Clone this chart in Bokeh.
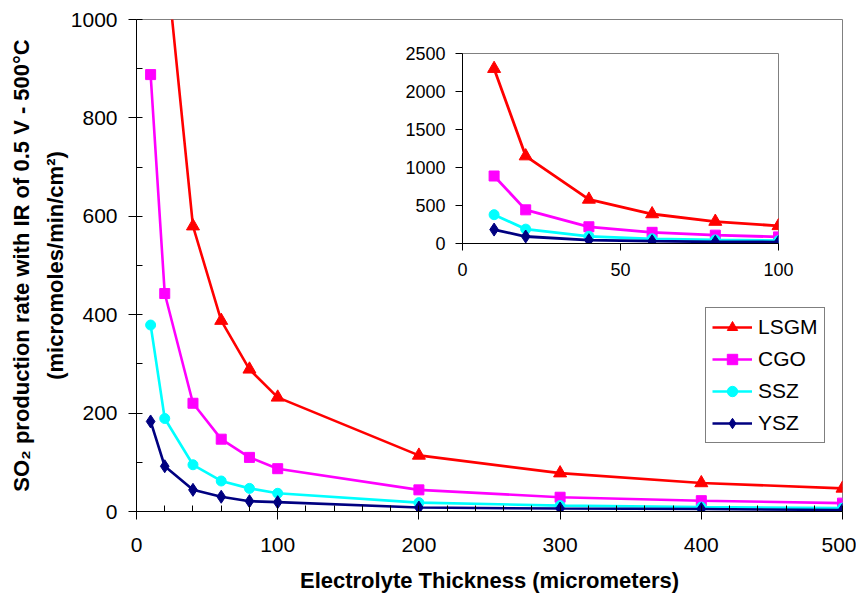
from bokeh.plotting import figure
from bokeh.models import SingleIntervalTicker, FixedTicker, Title, Range1d
from bokeh.embed import file_html
from bokeh.resources import INLINE

# ---- data ----
thickness = [10, 20, 40, 60, 80, 100, 200, 300, 400, 500]
lsgm = [2300, 1150, 580, 388, 289, 232, 114, 78, 58, 47]
cgo = [888, 443, 220, 147, 110, 87, 44, 29, 22, 17]
ssz = [379, 189, 95, 62, 47, 37, 18, 12, 9, 7]
ysz = [183, 92, 44, 30, 21, 19, 8, 6, 5, 3]

names = ["LSGM", "CGO", "SSZ", "YSZ"]
values = [lsgm, cgo, ssz, ysz]
colors = ["#FF0000", "#FF00FF", "#00FFFF", "#000080"]
markers = ["triangle", "square", "circle", "diamond"]
msizes = [13, 10, 10, 13]

main_x_ticks = 100
main_y_ticks = 200
inset_x_ticks = [0, 50, 100]
inset_y_interval = 500

FONT = "Liberation Sans"

# ---- main figure ----
p = figure(frame_width=706, frame_height=492, x_range=Range1d(0, 500), y_range=Range1d(0, 1000),
           output_backend="svg", toolbar_location=None,
           min_border_left=129, min_border_right=14, min_border_top=19, min_border_bottom=72)
p.background_fill_color = "white"
p.border_fill_color = "white"
p.outline_line_color = "#808080"
p.outline_line_width = 1
p.xgrid.visible = False
p.ygrid.visible = False

for nm, vals, col, mk, ms in zip(names, values, colors, markers, msizes):
    p.line(thickness, vals, line_color=col, line_width=2.6, legend_label=nm)
    p.scatter(thickness, vals, marker=mk, size=ms, fill_color=col, line_color=col, legend_label=nm)

p.xaxis.ticker = SingleIntervalTicker(interval=main_x_ticks, num_minor_ticks=5)
p.yaxis.ticker = SingleIntervalTicker(interval=main_y_ticks, num_minor_ticks=2)
for ax in (p.xaxis[0], p.yaxis[0]):
    ax.axis_line_color = "black"
    ax.major_tick_line_color = "black"
    ax.minor_tick_line_color = "black"
    ax.major_tick_out = 8
    ax.major_tick_in = 0
    ax.minor_tick_in = 6
    ax.minor_tick_out = 0
    ax.major_label_text_font = FONT
    ax.major_label_text_font_size = "21px"
    ax.major_label_text_color = "black"
    ax.axis_label_text_font = FONT
    ax.axis_label_text_font_size = "22px"
    ax.axis_label_text_font_style = "bold"
    ax.axis_label_text_color = "black"

p.xaxis.major_label_standoff = 18
p.yaxis.major_label_standoff = 11
p.xaxis.axis_label = "Electrolyte Thickness (micrometers)"
p.xaxis.axis_label_standoff = 13
p.yaxis.axis_label = "(micromoles/min/cm\u00b2)"
p.yaxis.axis_label_standoff = 0

t = Title(text="SO\u2082 production rate with IR of 0.5 V - 500\u00b0C", align="center",
          text_font=FONT, text_font_size="22px", text_font_style="bold",
          text_color="black", standoff=12)
p.add_layout(t, "left")

lg = p.legend[0]
lg.location = (569, 68)
lg.border_line_color = "black"
lg.border_line_width = 1
lg.background_fill_color = "white"
lg.background_fill_alpha = 1
lg.label_text_font = FONT
lg.label_text_font_size = "21px"
lg.label_text_color = "black"
lg.glyph_width = 40
lg.glyph_height = 26
lg.spacing = 6
lg.padding = 6
lg.margin = 0
lg.label_standoff = 6

# ---- inset figure ----
ins = figure(width=400, height=250, x_range=Range1d(0, 100), y_range=Range1d(0, 2500),
             output_backend="svg", toolbar_location=None,
             min_border_left=62, min_border_right=22, min_border_top=18, min_border_bottom=42)
ins.styles = {"position": "absolute", "left": "400px", "top": "35px"}
ins.background_fill_alpha = 0
ins.border_fill_alpha = 0
ins.outline_line_color = "#808080"
ins.outline_line_width = 1
ins.xgrid.visible = False
ins.ygrid.visible = False

for nm, vals, col, mk, ms in zip(names, values, colors, markers, msizes):
    xs = [x for x in thickness if x <= 100]
    ys = vals[:len(xs)]
    ins.line(xs, ys, line_color=col, line_width=2.8)
    ins.scatter(xs, ys, marker=mk, size=ms, fill_color=col, line_color=col)

ins.xaxis.ticker = FixedTicker(ticks=inset_x_ticks)
ins.yaxis.ticker = SingleIntervalTicker(interval=inset_y_interval, num_minor_ticks=0)
for ax in (ins.xaxis[0], ins.yaxis[0]):
    ax.axis_line_color = "black"
    ax.major_tick_line_color = "black"
    ax.minor_tick_line_color = None
    ax.major_tick_out = 7
    ax.major_tick_in = 0
    ax.major_label_text_font = FONT
    ax.major_label_text_font_size = "18px"
    ax.major_label_text_color = "black"
ins.xaxis.major_label_standoff = 12
ins.yaxis.major_label_standoff = 10

open("out.html", "w").write(file_html([p, ins], INLINE))
